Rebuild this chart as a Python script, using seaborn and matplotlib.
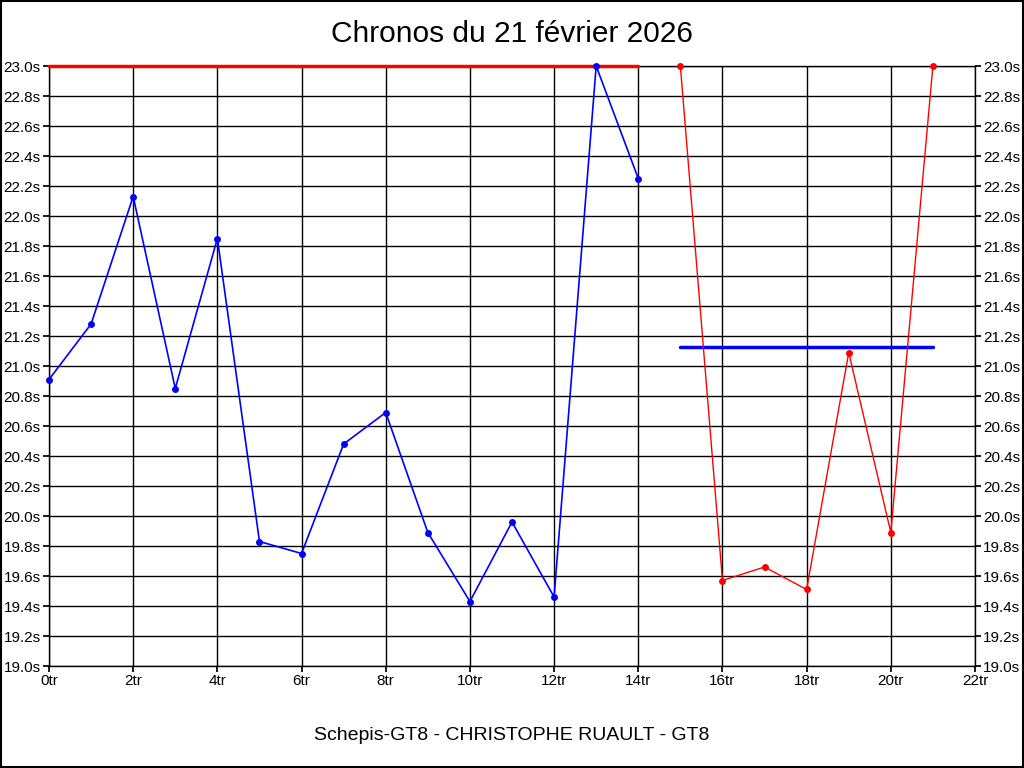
import pandas as pd
import matplotlib
matplotlib.use("Agg")
import matplotlib.pyplot as plt
import seaborn as sns

# Chronos par tour (en secondes)
tours_bleu = [0, 1, 2, 3, 4, 5, 6, 7, 8, 9, 10, 11, 12, 13, 14]
temps_bleu = [20.91, 21.28, 22.13, 20.85, 21.85, 19.83, 19.75, 20.48, 20.69,
              19.89, 19.43, 19.96, 19.46, 23.0, 22.25]
tours_rouge = [15, 16, 17, 18, 19, 20, 21]
temps_rouge = [23.0, 19.57, 19.66, 19.51, 21.09, 19.89, 23.0]

# Lignes de référence
ref_rouge_x = [0, 14]
ref_rouge_y = [23.0, 23.0]
ref_bleu_x = [15, 21]
ref_bleu_y = [21.13, 21.13]

x_ticks = list(range(0, 23, 2))
x_labels = [f"{t}tr" for t in x_ticks]
y_ticks = [19.0 + 0.2 * i for i in range(21)]
y_labels = [f"{v:.1f}s" for v in y_ticks]

sns.set_theme(style="white")
plt.rcParams['font.family'] = ['Liberation Sans', 'DejaVu Sans']
plt.rcParams['text.color'] = 'black'
plt.rcParams['xtick.color'] = 'black'
plt.rcParams['ytick.color'] = 'black'

fig = plt.figure(figsize=(10.24, 7.68), dpi=100)
fig.patches.append(plt.Rectangle((0.001, 0.001), 0.998, 0.998, transform=fig.transFigure,
                                 fill=False, edgecolor='black', linewidth=1.5))
ax = fig.add_axes([49 / 1024, 102 / 768, 926 / 1024, 600 / 768])

df_bleu = pd.DataFrame({'tour': tours_bleu, 'temps': temps_bleu})
df_rouge = pd.DataFrame({'tour': tours_rouge, 'temps': temps_rouge})

sns.lineplot(x=ref_rouge_x, y=ref_rouge_y, color='red', linewidth=2.5, ax=ax, zorder=3, clip_on=False)
sns.lineplot(x=ref_bleu_x, y=ref_bleu_y, color='blue', linewidth=2.5, ax=ax, zorder=3)
sns.lineplot(data=df_bleu, x='tour', y='temps', color='blue', linewidth=1.2,
             marker='o', markersize=5, markeredgewidth=0, ax=ax, zorder=4, clip_on=False)
sns.lineplot(data=df_rouge, x='tour', y='temps', color='red', linewidth=1.0,
             marker='o', markersize=5, markeredgewidth=0, ax=ax, zorder=4, clip_on=False)

ax.set_xlim(0, 22)
ax.set_ylim(19.0, 23.0)
ax.set_xticks(x_ticks)
ax.set_xticklabels(x_labels, fontsize=11)
ax.set_yticks(y_ticks)
ax.set_yticklabels(y_labels, fontsize=11)
ax.grid(True, color='black', linewidth=1.0)
ax.set_axisbelow(True)
ax.tick_params(axis='both', length=4, color='black', labelcolor='black', pad=2, direction='out',
               left=True, bottom=True, right=True, labelright=True)
for s in ax.spines.values():
    s.set_color('black')
    s.set_linewidth(1.0)
ax.set_xlabel("")
ax.set_ylabel("")

fig.text(0.5, 1 - 34 / 768, "Chronos du 21 février 2026", ha='center', va='center',
         fontsize=21.5, color='black')
fig.text(0.5, 1 - 735 / 768, "Schepis-GT8 - CHRISTOPHE RUAULT - GT8", ha='center', va='center',
         fontsize=14, color='black')

fig.savefig("out.png", dpi=100)
